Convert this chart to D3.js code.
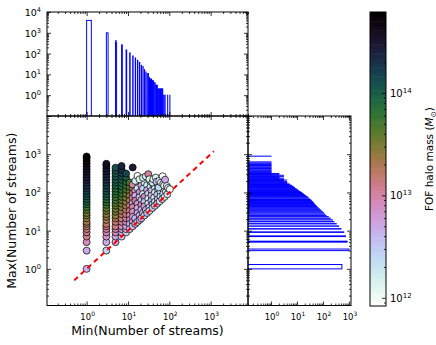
<!DOCTYPE html>
<html>
<head>
<meta charset="utf-8">
<script src="https://cdn.jsdelivr.net/npm/d3@7"></script>
<style>
  body { margin: 0; background: #fff; }
  svg text { font-family: "DejaVu Sans", sans-serif; fill: #000; }
</style>
</head>
<body>
<svg id="chart" width="436" height="345"></svg>
<script>
// histogram of Min(number of streams): [value, count]
const minHist = [
  [1, 3950], [3, 1000], [5, 410], [7, 263], [9, 150], [11, 108], [13, 77], [15, 62],
  [17, 48], [19, 38], [21, 27], [23, 24], [25, 17], [27, 13], [29, 11], [31, 11],
  [33, 7], [35, 6], [37, 6], [39, 5], [41, 5], [43, 4], [45, 4], [47, 3], [49, 3],
  [51, 3], [53, 2], [55, 2], [57, 2], [59, 2], [61, 2], [63, 2], [65, 2], [67, 2],
  [69, 2], [71, 1], [75, 1], [79, 1], [91, 1], [103, 1]
];

// histogram of Max(number of streams): [value, count]
const maxHist = [
  [1, 535], [3, 1000], [5, 850], [7, 730], [9, 630], [11, 490], [13, 400], [15, 325],
  [17, 265], [19, 230], [21, 190], [23, 160], [25, 130], [27, 115], [29, 105], [31, 95],
  [33, 85], [35, 78], [37, 72], [39, 66], [41, 61], [43, 57], [45, 53], [47, 50], [49, 47],
  [51, 45], [53, 43], [55, 41], [57, 39], [59, 37], [61, 35], [63, 34], [65, 32], [67, 30],
  [71, 28], [75, 26], [77, 24], [81, 22], [83, 21], [87, 19], [89, 18], [93, 17], [95, 16],
  [99, 15], [101, 14], [105, 13], [109, 12], [113, 11], [117, 10], [121, 10], [125, 9],
  [131, 8], [135, 8], [141, 7], [145, 7], [151, 6], [155, 6], [161, 5], [167, 5], [173, 4],
  [179, 4], [185, 4], [191, 4], [199, 3], [205, 3], [211, 4], [219, 3], [227, 2], [235, 3],
  [243, 2], [251, 2], [259, 3], [269, 2], [281, 3], [289, 1], [297, 2], [305, 1], [311, 2],
  [321, 1], [335, 1], [349, 1], [365, 1], [381, 1], [405, 1], [421, 1], [441, 1], [461, 1],
  [487, 1], [509, 1], [535, 1], [561, 1], [591, 1], [629, 1], [889, 1]
];

// halos: [min streams, max streams, log10 FOF halo mass]
const halos = [
  [1, 1, 12.65], [1, 3, 12.7], [1, 5, 12.9], [1, 7, 13.05], [1, 9, 13.1], [1, 11, 13.15],
  [1, 13, 13.2], [1, 15, 13.3], [1, 17, 13.35], [1, 21, 13.4], [1, 25, 13.5], [1, 29, 13.55],
  [1, 35, 13.65], [1, 41, 13.75], [1, 49, 13.85], [1, 57, 13.95], [1, 67, 14.0], [1, 79, 14.1],
  [1, 93, 14.15], [1, 109, 14.2], [1, 129, 14.25], [1, 151, 14.3], [1, 179, 14.35], [1, 211, 14.4],
  [1, 249, 14.45], [1, 293, 14.5], [1, 345, 14.52], [1, 407, 14.55], [1, 481, 14.6], [1, 567, 14.63],
  [1, 669, 14.68], [1, 789, 14.72], [1, 871, 14.76],
  [3, 3, 12.45], [3, 5, 12.7], [3, 7, 12.85], [3, 9, 12.95], [3, 11, 13.05], [3, 13, 13.1],
  [3, 15, 13.2], [3, 19, 13.3], [3, 23, 13.4], [3, 27, 13.45], [3, 33, 13.55], [3, 39, 13.6],
  [3, 47, 13.7], [3, 55, 13.8], [3, 65, 13.9], [3, 77, 14.0], [3, 91, 14.05], [3, 107, 14.1],
  [3, 127, 14.15], [3, 151, 14.2], [3, 179, 14.25], [3, 213, 14.3], [3, 253, 14.35], [3, 301, 14.4],
  [3, 357, 14.45], [3, 425, 14.5], [3, 503, 14.55], [3, 561, 14.6],
  [5, 5, 12.6], [5, 7, 12.75], [5, 9, 12.9], [5, 11, 13.0], [5, 13, 13.1], [5, 17, 13.2],
  [5, 21, 13.3], [5, 25, 13.4], [5, 31, 13.5], [5, 37, 13.55], [5, 45, 13.6], [5, 53, 13.65],
  [5, 63, 13.7], [5, 75, 13.75], [5, 89, 13.8], [5, 105, 13.85], [5, 125, 13.9], [5, 151, 13.95],
  [5, 181, 14.0], [5, 215, 14.0], [5, 257, 14.05], [5, 311, 14.0], [5, 371, 14.05], [5, 443, 14.1],
  [7, 7, 12.5], [7, 9, 12.7], [7, 11, 12.85], [7, 13, 12.95], [7, 17, 13.05], [7, 21, 13.15],
  [7, 27, 13.25], [7, 33, 13.35], [7, 41, 13.45], [7, 51, 13.55], [7, 63, 13.6], [7, 77, 13.7],
  [7, 95, 13.8], [7, 117, 13.85], [7, 143, 13.9], [7, 175, 13.95], [7, 215, 14.0], [7, 263, 14.1],
  [7, 321, 14.2], [7, 391, 14.3], [7, 491, 14.4],
  [9, 9, 12.4], [9, 11, 12.6], [9, 13, 12.75], [9, 17, 12.9], [9, 21, 13.0], [9, 27, 13.1],
  [9, 35, 13.2], [9, 45, 13.3], [9, 57, 13.4], [9, 73, 13.5], [9, 93, 13.6], [9, 119, 13.7],
  [9, 151, 13.8], [9, 191, 13.9], [9, 241, 14.0], [9, 311, 14.15], [13, 451, 14.45],
  [11, 107, 13.5], [11, 139, 13.6], [11, 181, 13.7], [13, 125, 13.3], [13, 161, 13.0],
  [11, 81, 13.4], [13, 95, 13.2], [15, 111, 12.8], [17, 129, 12.3], [21, 151, 12.7], [25, 181, 12.2],
  [11, 61, 13.3], [13, 71, 13.0], [15, 83, 12.7], [19, 101, 12.9], [23, 125, 12.4], [29, 155, 12.2], [35, 191, 12.6],
  [11, 45, 13.2], [13, 53, 12.7], [15, 61, 13.1], [19, 75, 12.6], [23, 91, 12.3], [29, 115, 12.7], [35, 139, 12.2], [41, 165, 12.5],
  [11, 33, 13.1], [13, 41, 13.0], [17, 51, 12.8], [21, 63, 12.6], [25, 77, 12.9], [31, 93, 12.4], [37, 111, 12.6], [45, 133, 12.2], [53, 159, 12.3],
  [11, 25, 13.0], [13, 31, 12.9], [17, 39, 12.7], [21, 47, 13.0], [25, 57, 12.6], [31, 69, 12.3], [37, 83, 12.7], [45, 101, 12.2], [53, 121, 12.5], [61, 139, 12.2],
  [11, 19, 12.9], [13, 23, 12.8], [17, 29, 12.7], [21, 35, 12.6], [25, 43, 12.75], [31, 51, 12.3], [37, 61, 12.6], [43, 73, 12.2], [51, 87, 12.5], [61, 103, 12.3], [71, 121, 12.1],
  [11, 15, 12.7], [13, 17, 12.8], [15, 21, 12.6], [19, 25, 12.7], [23, 29, 12.5], [27, 35, 12.7], [33, 41, 12.4], [39, 49, 12.6], [45, 57, 12.3], [53, 67, 12.5], [61, 77, 12.2], [71, 91, 12.4], [83, 105, 12.1],
  [15, 201, 12.2], [17, 271, 11.95], [19, 221, 12.1], [23, 241, 12.3], [27, 263, 12.2], [31, 301, 13.05], [33, 221, 12.1],
  [39, 181, 12.3], [41, 223, 12.0], [47, 245, 12.15], [49, 191, 12.6], [55, 135, 12.4], [57, 201, 12.2], [63, 181, 12.05],
  [69, 265, 11.95], [71, 169, 12.2], [75, 151, 12.1], [79, 215, 12.7], [87, 147, 12.0], [93, 131, 12.2],
  [11, 11, 12.6], [13, 13, 12.5], [15, 15, 12.7], [17, 17, 12.3], [19, 19, 12.6], [21, 21, 12.7], [25, 25, 12.4],
  [29, 29, 12.6], [33, 33, 12.2], [39, 39, 12.6], [45, 45, 12.3], [51, 51, 12.7], [59, 59, 12.2], [67, 67, 12.5],
  [77, 77, 12.1], [89, 89, 12.3], [103, 121, 11.95]
];

const oneToOne = [0.5, 1200];
const massRange = [11.92, 14.79];
const massTickExp = [12, 13, 14];
const mainTickExp = [0, 1, 2, 3];
const topTickExp = [0, 1, 2, 3, 4];
const rightTickExp = [0, 1, 2, 3];
const binWidth = 0.3;

const svg = d3.select('#chart');

const main = { l: 47, r: 248, t: 116, b: 305.5 };
const top_ = { l: 47, r: 248, t: 12, b: 116 };
const side = { l: 248, r: 351, t: 116, b: 305.5 };
const cbar = { l: 370, r: 386, t: 12, b: 306 };

const x = d3.scaleLog().domain([0.11, 8000]).range([main.l, main.r]);
const y = d3.scaleLog().domain([0.11, 10000]).range([main.b, main.t]);
const yTop = d3.scaleLog().domain([0.1, 10000]).range([top_.b, top_.t]);
const xSide = d3.scaleLog().domain([0.13, 1200]).range([side.l, side.r]);
const cScale = d3.scaleLinear().domain(massRange).range([cbar.b, cbar.t]);
const color = m => d3.interpolateCubehelixDefault(1 - (m - massRange[0]) / (massRange[1] - massRange[0]));

function logTicks(scale) {
  const [a, b] = scale.domain();
  const major = [], minor = [];
  for (let p = Math.floor(Math.log10(a)); p <= Math.ceil(Math.log10(b)); p++) {
    for (let k = 1; k < 10; k++) {
      const v = k * Math.pow(10, p);
      if (v < a * 0.999 || v > b * 1.001) continue;
      (k === 1 ? major : minor).push(v);
    }
  }
  return { major, minor };
}

// inward ticks on all four sides
function frameTicks(box, xs, ys) {
  const g = svg.append('g');
  const sets = [];
  if (xs) {
    const t = logTicks(xs);
    sets.push([d3.axisBottom(xs), box.b, 'x', t], [d3.axisTop(xs), box.t, 'x', t]);
  }
  if (ys) {
    const t = logTicks(ys);
    sets.push([d3.axisLeft(ys), box.l, 'y', t], [d3.axisRight(ys), box.r, 'y', t]);
  }
  sets.forEach(([ax, pos, dir, t]) => {
    [[t.minor, -2], [t.major, -4]].forEach(([vals, size]) => {
      const a = g.append('g')
        .attr('transform', dir === 'x' ? `translate(0,${pos})` : `translate(${pos},0)`)
        .call(ax.tickValues(vals).tickSize(size).tickFormat(''));
      a.select('.domain').remove();
      a.selectAll('line').attr('stroke', '#000').attr('stroke-width', 0.8);
    });
  });
  svg.append('rect')
    .attr('x', box.l).attr('y', box.t)
    .attr('width', box.r - box.l).attr('height', box.b - box.t)
    .attr('fill', 'none').attr('stroke', '#000').attr('stroke-width', 1);
}

function powLabel(g, exp, px, py, anchor, size) {
  const t = g.append('text')
    .attr('x', px).attr('y', py)
    .attr('text-anchor', anchor)
    .attr('font-size', size);
  t.append('tspan').text('10');
  t.append('tspan').attr('dy', -size * 0.42).attr('font-size', size * 0.7).text(exp);
}

const defs = svg.append('defs');
defs.append('clipPath').attr('id', 'clipMain').append('rect')
  .attr('x', main.l).attr('y', main.t).attr('width', main.r - main.l).attr('height', main.b - main.t);
defs.append('clipPath').attr('id', 'clipTop').append('rect')
  .attr('x', top_.l).attr('y', top_.t).attr('width', top_.r - top_.l).attr('height', top_.b - top_.t);
defs.append('clipPath').attr('id', 'clipSide').append('rect')
  .attr('x', side.l).attr('y', side.t).attr('width', side.r - side.l).attr('height', side.b - side.t);

// top histogram
svg.append('g').attr('clip-path', 'url(#clipTop)')
  .selectAll('rect').data(minHist).join('rect')
  .attr('x', d => x(d[0]))
  .attr('width', d => x(d[0] + binWidth) - x(d[0]))
  .attr('y', d => yTop(d[1]))
  .attr('height', d => top_.b + 2 - yTop(d[1]))
  .attr('fill', 'none').attr('stroke', '#0000ff').attr('stroke-width', 1);

// side histogram
svg.append('g').attr('clip-path', 'url(#clipSide)')
  .selectAll('rect').data(maxHist).join('rect')
  .attr('x', side.l - 2)
  .attr('width', d => xSide(d[1]) - side.l + 2)
  .attr('y', d => y(d[0] + binWidth))
  .attr('height', d => y(d[0]) - y(d[0] + binWidth))
  .attr('fill', 'none').attr('stroke', '#0000ff').attr('stroke-width', 1);

// scatter
const scat = svg.append('g').attr('clip-path', 'url(#clipMain)');
scat.selectAll('circle').data(halos).join('circle')
  .attr('cx', d => x(d[0]))
  .attr('cy', d => y(d[1]))
  .attr('r', 3.5)
  .attr('fill', d => color(d[2]))
  .attr('stroke', '#000').attr('stroke-width', 0.7);

scat.append('path')
  .datum(oneToOne)
  .attr('d', d3.line().x(d => x(d)).y(d => y(d)))
  .attr('fill', 'none').attr('stroke', '#ff0000').attr('stroke-width', 2)
  .attr('stroke-dasharray', '5,4');

frameTicks(top_, x, yTop);
frameTicks(side, xSide, y);
frameTicks(main, x, y);

// tick labels
const lab = svg.append('g');
mainTickExp.forEach(e => powLabel(lab, e, 41, y(Math.pow(10, e)) + 4, 'end', 9.5));
mainTickExp.forEach(e => powLabel(lab, e, x(Math.pow(10, e)) + 1, 320, 'middle', 8.5));
topTickExp.forEach(e => powLabel(lab, e, 41, yTop(Math.pow(10, e)) + 4, 'end', 9.5));
rightTickExp.forEach(e => powLabel(lab, e, xSide(Math.pow(10, e)) + 1, 320, 'middle', 8.5));

// axis titles
svg.append('text')
  .attr('x', (main.l + main.r) / 2).attr('y', 335)
  .attr('text-anchor', 'middle').attr('font-size', 12.5)
  .text('Min(Number of streams)');
svg.append('text')
  .attr('transform', `translate(16,${(main.t + main.b) / 2}) rotate(-90)`)
  .attr('text-anchor', 'middle').attr('font-size', 12.5)
  .text('Max(Number of streams)');

// colorbar
const nBands = 64;
const bandH = (cbar.b - cbar.t) / nBands;
svg.append('g').selectAll('rect').data(d3.range(nBands)).join('rect')
  .attr('x', cbar.l).attr('width', cbar.r - cbar.l)
  .attr('y', i => cbar.b - (i + 1) * bandH)
  .attr('height', bandH + 0.5)
  .attr('fill', i => color(massRange[0] + (i + 0.5) / nBands * (massRange[1] - massRange[0])));
svg.append('rect')
  .attr('x', cbar.l).attr('y', cbar.t).attr('width', cbar.r - cbar.l).attr('height', cbar.b - cbar.t)
  .attr('fill', 'none').attr('stroke', '#000').attr('stroke-width', 1);

const cbMinor = [];
d3.range(11, 15).forEach(p => d3.range(2, 10).forEach(k => {
  const v = p + Math.log10(k);
  if (v > massRange[0] && v < massRange[1]) cbMinor.push(v);
}));
const cbAxisG = svg.append('g').attr('transform', `translate(${cbar.r},0)`);
[[cbMinor, -2], [massTickExp, -4]].forEach(([vals, size]) => {
  const a = cbAxisG.append('g').call(d3.axisRight(cScale).tickValues(vals).tickSize(size).tickFormat(''));
  a.select('.domain').remove();
  a.selectAll('line').attr('stroke', '#000').attr('stroke-width', 0.8);
});
massTickExp.forEach(e => powLabel(svg, e, cbar.r + 4, cScale(e) + 4, 'start', 10));

const cbLabel = svg.append('text')
  .attr('transform', `translate(433,${(cbar.t + cbar.b) / 2}) rotate(-90)`)
  .attr('text-anchor', 'middle').attr('font-size', 10.5);
cbLabel.append('tspan').text('FOF halo mass (');
cbLabel.append('tspan').attr('font-style', 'italic').text('M');
cbLabel.append('tspan').attr('dy', 2.5).attr('font-size', 7.5).text('⊙');
cbLabel.append('tspan').attr('dy', -2.5).text(')');
</script>
</body>
</html>
